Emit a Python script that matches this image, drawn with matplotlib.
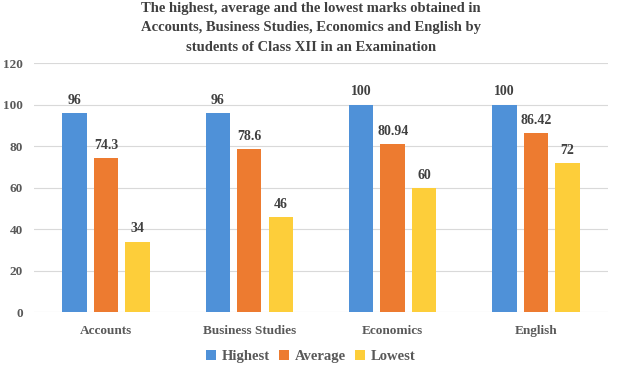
import matplotlib
matplotlib.use("Agg")
import matplotlib.pyplot as plt
import numpy as np

categories = ["Accounts", "Business Studies", "Economics", "English"]
highest = [96, 96, 100, 100]
average = [74.3, 78.6, 80.94, 86.42]
lowest = [34, 46, 60, 72]
series_names = ["Highest", "Average", "Lowest"]
colors = ["#4F91D8", "#ED7B30", "#FDCE3A"]
yticks = [0, 20, 40, 60, 80, 100, 120]

plt.rcParams['font.family'] = ['Liberation Serif', 'DejaVu Serif']
plt.rcParams['font.weight'] = 'bold'

fig = plt.figure(figsize=(6.22, 3.74), dpi=100)
ax = fig.add_axes([0.055, 0.165, 0.922, 0.666])

x = np.arange(len(categories))
w = 0.17
step = 0.22
txt = "#404040"
for i, (vals, name, c) in enumerate(zip([highest, average, lowest], series_names, colors)):
    bars = ax.bar(x + (i - 1) * step, vals, width=w, color=c, label=name, zorder=3)
    for b, v in zip(bars, vals):
        ax.text(b.get_x() + b.get_width() / 2, v + 3, f"{v:g}", ha="center", va="bottom",
                fontsize=10, fontweight="bold", color=txt)

ax.set_xlim(-0.5, len(categories) - 0.5)
ax.set_ylim(0, 120)
ax.set_yticks(yticks)
ax.set_xticks(x)
ax.set_xticklabels(categories)
ax.grid(axis="y", color="#D9D9D9", linewidth=0.8, zorder=0)
for s in ["top", "right", "left", "bottom"]:
    ax.spines[s].set_visible(False)
ax.tick_params(axis="both", length=0, labelsize=9.5, labelcolor="#595959")
ax.tick_params(axis="x", pad=9)
ax.tick_params(axis="y", pad=8)
for lab in ax.get_xticklabels() + ax.get_yticklabels():
    lab.set_fontweight("bold")

fig.text(0.5, 0.995, "The highest, average and the lowest marks obtained in\n"
         "Accounts, Business Studies, Economics and English by\n"
         "students of Class XII in an Examination",
         ha="center", va="top", fontsize=10.5, fontweight="bold", color=txt, linespacing=1.65)

leg = fig.legend(loc="lower center", bbox_to_anchor=(0.5, -0.005), ncol=3, frameon=False,
                 prop={"size": 10.5, "weight": "bold"}, handlelength=0.7, handleheight=0.7,
                 handletextpad=0.4, columnspacing=0.6)
for t in leg.get_texts():
    t.set_color("#595959")

fig.savefig("out.png", dpi=100)
